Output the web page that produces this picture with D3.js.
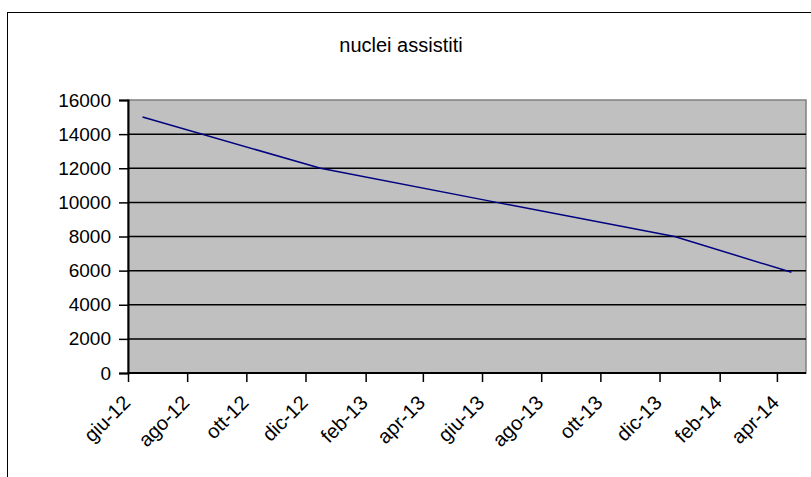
<!DOCTYPE html>
<html><head><meta charset="utf-8">
<script src="https://cdn.jsdelivr.net/npm/d3@7"></script>
<style>body{margin:0;background:#fff}svg{display:block}text{font-family:"Liberation Sans",Arial,sans-serif}</style>
</head><body>
<svg id="c" width="811" height="477"></svg>
<script>
const title = "nuclei assistiti";
const months = ["2012-06","2012-12","2013-06","2013-12","2014-04"];
const values = [15000, 12000, 10000, 8000, 5900];
const tickLabels = ["giu-12","ago-12","ott-12","dic-12","feb-13","apr-13","giu-13","ago-13","ott-13","dic-13","feb-14","apr-14"];
const yTicks = [0,2000,4000,6000,8000,10000,12000,14000,16000];

const svg = d3.select("#c");
const L=128, R=806, T=100, B=373;
const FS = 20;
const parse = d3.timeParse("%Y-%m");
const start = new Date(2012,5,1), end = new Date(2014,4,1);
const x = d3.scaleTime().domain([start,end]).range([L,R]);
const y = d3.scaleLinear().domain([0,16000]).range([B,T]);

// outer frame
svg.append("rect").attr("x",7.5).attr("y",12.5).attr("width",820).attr("height",480)
  .attr("fill","#fff").attr("stroke","#000").attr("stroke-width",1);

svg.append("text").attr("x",401).attr("y",52).attr("text-anchor","middle")
  .attr("font-size",FS).text(title);

// plot area
svg.append("rect").attr("x",L).attr("y",T).attr("width",R-L).attr("height",B-T)
  .attr("fill","#c0c0c0").attr("stroke","#808080").attr("stroke-width",1.5);

// gridlines
svg.append("g").selectAll("line").data(yTicks.filter(d=>d>0 && d<16000)).join("line")
  .attr("x1",L).attr("x2",R).attr("y1",d=>y(d)).attr("y2",d=>y(d))
  .attr("stroke","#000").attr("stroke-width",1.5);

// y axis
const ya = svg.append("g").attr("transform",`translate(${L},0)`)
  .call(d3.axisLeft(y).tickValues(yTicks).tickSize(9).tickPadding(8).tickFormat(d3.format("d")));
ya.select(".domain").attr("stroke","#000").attr("stroke-width",2);
ya.selectAll(".tick line").attr("stroke","#000").attr("stroke-width",1.5);
ya.selectAll("text").attr("font-size",19).attr("fill","#000").style("font-family","Liberation Sans, Arial, sans-serif");

// x axis
const tickDates = tickLabels.map((d,i)=>d3.timeMonth.offset(start,i*2));
const xa = svg.append("g").attr("transform",`translate(0,${B})`)
  .call(d3.axisBottom(x).tickValues(tickDates).tickSize(9).tickFormat((d,i)=>tickLabels[i]));
xa.select(".domain").attr("stroke","#000").attr("stroke-width",2).attr("d",`M${L},0H${R}`);
xa.selectAll(".tick line").attr("stroke","#000").attr("stroke-width",1.5);
xa.selectAll("text").attr("font-size",FS).attr("fill","#000")
  .style("font-family","Liberation Sans, Arial, sans-serif")
  .attr("text-anchor","end").attr("dy",null).attr("y",null)
  .attr("transform","translate(3,31) rotate(-45)");

// line: points at centre of monthly slot
const cx = d => { const s = parse(d); return (x(s)+x(d3.timeMonth.offset(s,1)))/2; };
svg.append("path").datum(months.map((m,i)=>[cx(m),y(values[i])]))
  .attr("d",d3.line()).attr("fill","none").attr("stroke","#000080").attr("stroke-width",1.5);
</script>
</body></html>
